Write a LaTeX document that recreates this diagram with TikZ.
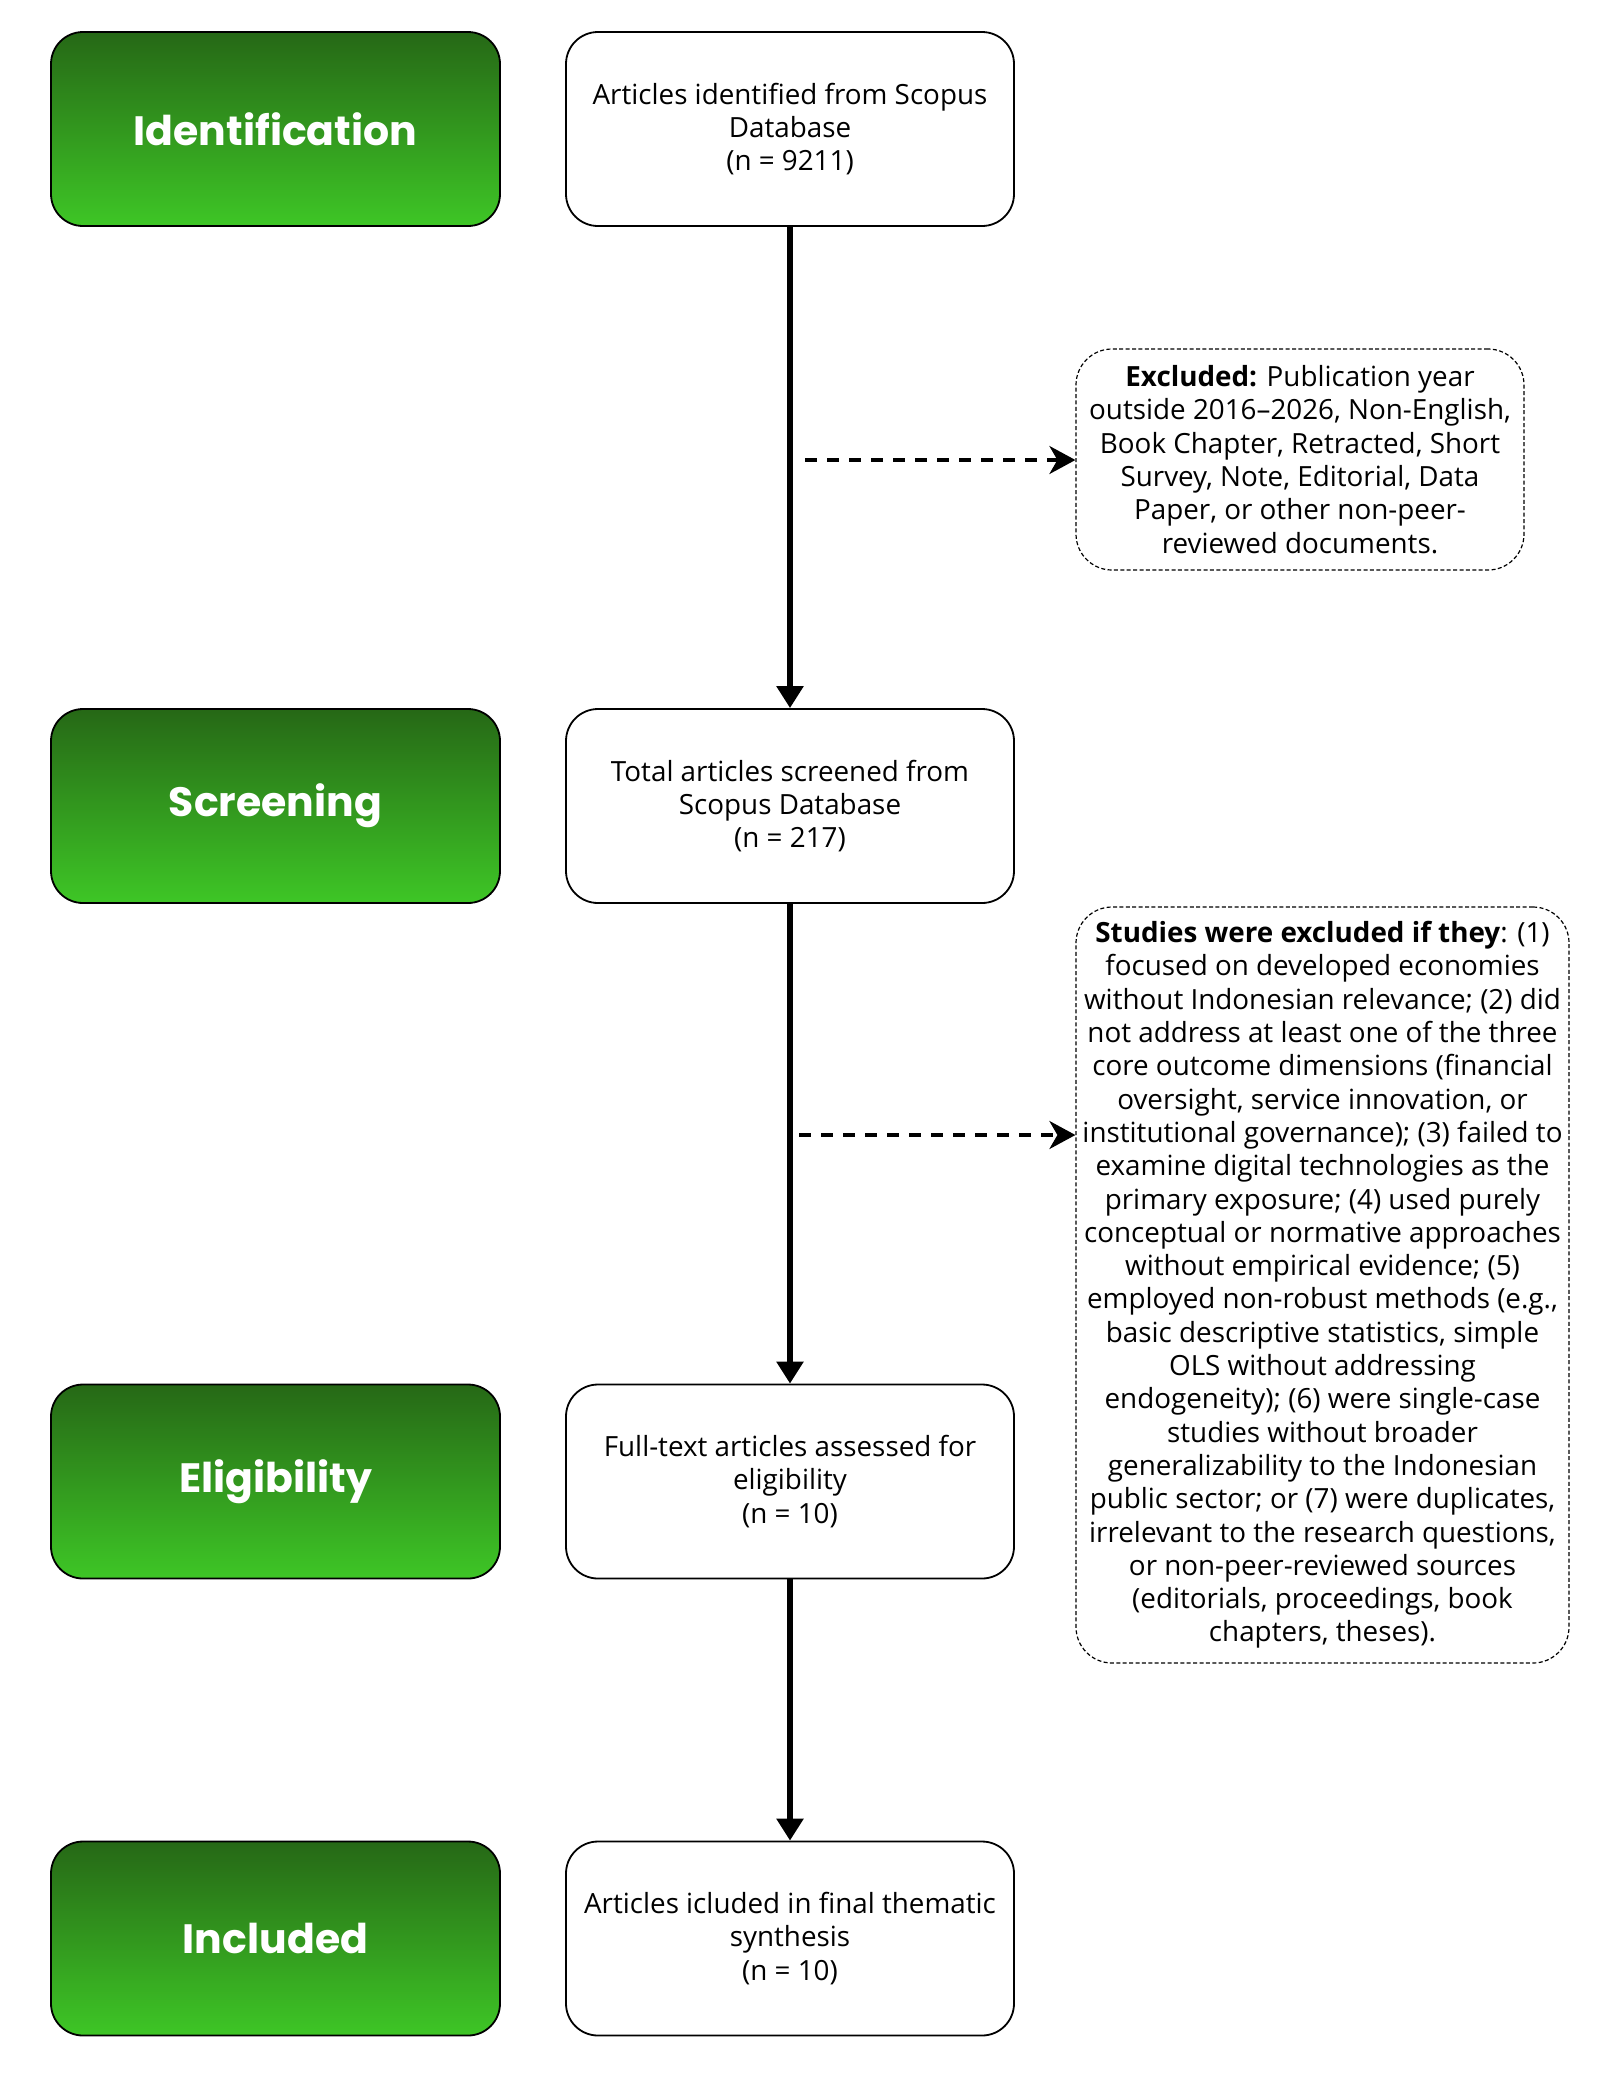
\documentclass[tikz,border=0pt]{standalone}
\usepackage{fontspec}
\setmainfont{Open Sans}
\newfontfamily\lblfont{Poppins}
\usetikzlibrary{arrows.meta,calc}
\definecolor{gtop}{RGB}{38,104,22}
\definecolor{gbot}{RGB}{62,198,38}
\tikzset{
  stage/.style={draw=black,line width=0.9pt,rounded corners=16pt,top color=gtop,bottom color=gbot,
    minimum width=224.5pt,minimum height=97pt,text=white,font=\lblfont\bfseries\fontsize{20.5}{24}\selectfont},
  info/.style={draw=black,line width=0.9pt,rounded corners=16pt,fill=white,
    minimum width=224pt,minimum height=97pt,align=center,font=\fontsize{13.9}{16.65}\selectfont},
  excl/.style={draw=black,line width=0.6pt,dash pattern=on 2pt off 1.2pt,rounded corners=18pt,fill=white,
    align=center,font=\fontsize{13.9}{16.65}\selectfont,inner sep=0pt},
  flow/.style={line width=3.2pt,-{Triangle[width=13pt,length=11pt]}},
  side/.style={line width=1.6pt,dash pattern=on 6pt off 5pt,-{Stealth[width=14pt,length=13pt,inset=4pt]}},
}
\begin{document}
\begin{tikzpicture}[x=0.5pt,y=-0.5pt]
\useasboundingbox (0,0) rectangle (1616,2089);
\fill[white] (0,0) rectangle (1616,2089);
% stage labels
\node[stage] (s1) at (275.5,129) {Identification};
\node[stage] (s2) at (275.5,806) {Screening};
\node[stage] (s3) at (275.5,1481.5) {Eligibility};
\node[stage] (s4) at (275.5,1938.5) {Included};
% main boxes
\node[info] (b1) at (790,129) {Articles identified from Scopus\\Database\\(n = 9211)};
\node[info] (b2) at (790,806) {Total articles screened from\\Scopus Database\\(n = 217)};
\node[info] (b3) at (790,1481.5) {Full-text articles assessed for\\eligibility\\(n = 10)};
\node[info] (b4) at (790,1938.5) {Articles icluded in final thematic\\synthesis\\(n = 10)};
% exclusion boxes
\node[excl,minimum width=224pt,minimum height=110.5pt] (e1) at (1300,459.5)
 {\textbf{Excluded:} Publication year\\outside 2016–2026, Non-English,\\Book Chapter, Retracted, Short\\Survey, Note, Editorial, Data\\Paper, or other non-peer-\\reviewed documents.};
\node[excl,minimum width=246.5pt,minimum height=378pt] (e2) at (1322.5,1285)
 {\textbf{Studies were excluded if they}: (1)\\focused on developed economies\\without Indonesian relevance; (2) did\\not address at least one of the three\\core outcome dimensions (financial\\oversight, service innovation, or\\institutional governance); (3) failed to\\examine digital technologies as the\\primary exposure; (4) used purely\\conceptual or normative approaches\\without empirical evidence; (5)\\employed non-robust methods (e.g.,\\basic descriptive statistics, simple\\OLS without addressing\\endogeneity); (6) were single-case\\studies without broader\\generalizability to the Indonesian\\public sector; or (7) were duplicates,\\irrelevant to the research questions,\\or non-peer-reviewed sources\\(editorials, proceedings, book\\chapters, theses).};
% main flow
\draw[flow] (b1.south) -- (b2.north);
\draw[flow] (b2.south) -- (b3.north);
\draw[flow] (b3.south) -- (b4.north);
% side arrows
\coordinate (d1) at (805,460);
\coordinate (d2) at (799,1135);
\draw[side] (d1) -- (d1 -| e1.west);
\draw[side] (d2) -- (d2 -| e2.west);
\end{tikzpicture}
\end{document}
